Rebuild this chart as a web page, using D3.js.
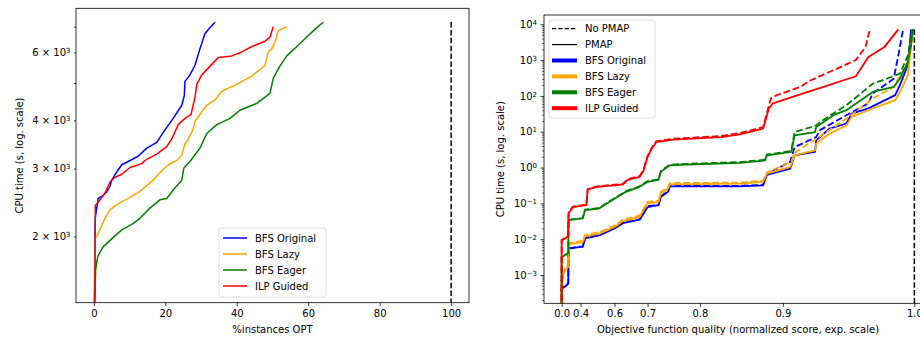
<!DOCTYPE html>
<html><head><meta charset="utf-8">
<script src="https://cdn.jsdelivr.net/npm/d3@7"></script>
<style>
body{margin:0;background:#fff;}
text{font-family:"DejaVu Sans",sans-serif;fill:#000;}
</style></head><body>
<svg id="c" width="920" height="342"></svg>
<script>
// ---------- DATA ----------
const seriesNames = ["BFS Original", "BFS Lazy", "BFS Eager", "ILP Guided"];
const seriesColors = ["blue", "orange", "green", "red"];

// Left chart: [% instances OPT, CPU time (s)]
const optOriginal = [[0,1000],[0.2,1500],[0.3,2000],[0.4,2240],[1.2,2510],[2.2,2540],[3.6,2610],[4.5,2700],[5.0,2800],[6.4,2940],[7.8,3070],[9.6,3130],[12.4,3230],[14.8,3390],[17.6,3510],[19.9,3780],[22.2,4050],[24.6,4380],[25.3,4630],[25.5,5050],[26.9,5250],[28.3,5560],[29.7,6140],[31.1,6720],[32.5,6960],[33.9,7190]];
const optLazy = [[0,1000],[0.3,1500],[0.4,1990],[0.8,2000],[1.7,2080],[3.1,2230],[4.5,2345],[6.4,2420],[9.2,2500],[12.9,2620],[16.6,2800],[18,2900],[20.8,3070],[23.2,3150],[24.6,3250],[25.5,3480],[26,3520],[27.8,3800],[28.3,3980],[30.2,4210],[31.6,4380],[33.9,4520],[35.8,4760],[40,4960],[44.2,5210],[47.9,5560],[48.8,6020],[49.8,6140],[50.7,6380],[51.6,6850],[54,7000]];
const optEager = [[0,1000],[0.3,1400],[0.5,1640],[1.1,1780],[2.6,1880],[5.4,1990],[7.8,2080],[10.6,2150],[12.9,2230],[15.7,2370],[18.5,2490],[20.4,2510],[22.2,2640],[24.6,2800],[25.2,3010],[26.9,3130],[29.7,3390],[31.6,3700],[34.4,3900],[38.1,4050],[40.9,4250],[45.6,4430],[49.3,4700],[50.2,5140],[52.1,5540],[54,5880],[56.8,6220],[59.6,6580],[62.4,6960],[64.2,7190]];
const optIlp = [[0,1000],[0.3,1500],[0.4,2410],[1.0,2440],[1.7,2490],[3.1,2590],[4.5,2770],[5.9,2850],[7.8,2900],[10.1,3020],[13.4,3090],[14.3,3150],[17.6,3270],[20.4,3420],[21.8,3580],[23.6,3900],[25.5,4050],[27.2,4150],[28.3,4590],[28.8,4960],[30.2,5250],[33.4,5640],[34.8,5820],[38.6,5880],[41.4,6020],[44.2,6220],[47.9,6420],[49.3,6580],[50.2,7000]];
const leftXTicks = [0, 20, 40, 60, 80, 100];
const leftYTicks = [2000, 3000, 4000, 5000, 6000, 7000];
const leftYMantissa = ["2", "3", "4", "", "6", ""];

// Right chart: [objective quality (normalized), CPU time (s)]
const pmapOriginal = [[0,1e-4],[0,0.00043],[0.14,0.00047],[0.228,0.00058],[0.235,0.0055],[0.42,0.0062],[0.44,0.0105],[0.535,0.0129],[0.60,0.020],[0.63,0.028],[0.68,0.035],[0.70,0.079],[0.725,0.089],[0.73,0.15],[0.745,0.21],[0.748,0.30],[0.854,0.30],[0.88,0.32],[0.884,0.62],[0.907,0.93],[0.911,2.19],[0.929,2.75],[0.93,5.75],[0.941,12.3],[0.954,17],[0.958,32],[0.970,45],[0.988,105],[0.991,200],[0.996,724],[0.998,7200]];
const nopmapOriginal = [[0,1e-4],[0,0.00043],[0.14,0.00047],[0.228,0.00058],[0.235,0.0056],[0.42,0.0063],[0.44,0.0108],[0.535,0.0132],[0.60,0.021],[0.63,0.029],[0.68,0.036],[0.70,0.083],[0.725,0.093],[0.73,0.16],[0.745,0.22],[0.748,0.31],[0.854,0.31],[0.88,0.33],[0.884,0.65],[0.907,1.45],[0.911,3.7],[0.93,7.1],[0.933,11],[0.954,29],[0.970,62],[0.973,117],[0.987,302],[0.990,1350],[0.993,7200]];
const pmapLazy = [[0,1e-4],[0,0.00069],[0.14,0.0014],[0.228,0.0017],[0.235,0.0072],[0.42,0.0083],[0.44,0.012],[0.535,0.0145],[0.60,0.022],[0.63,0.032],[0.68,0.042],[0.70,0.10],[0.725,0.11],[0.73,0.19],[0.745,0.26],[0.748,0.34],[0.854,0.355],[0.88,0.40],[0.884,0.68],[0.907,1.05],[0.911,2.19],[0.929,3.0],[0.93,4.7],[0.941,8.9],[0.954,15],[0.958,26],[0.970,40],[0.988,76],[0.991,129],[0.996,380],[0.998,2570],[0.9995,7200]];
const nopmapLazy = [[0,1e-4],[0,0.00069],[0.14,0.0014],[0.228,0.0018],[0.235,0.0078],[0.42,0.0090],[0.44,0.013],[0.535,0.016],[0.60,0.024],[0.63,0.035],[0.68,0.046],[0.70,0.11],[0.725,0.12],[0.73,0.21],[0.745,0.28],[0.748,0.37],[0.854,0.38],[0.88,0.43],[0.884,0.72],[0.908,1.45],[0.911,2.6],[0.930,6.3],[0.954,23],[0.973,85],[0.987,178],[0.996,890],[0.999,7200]];
const pmapEager = [[0,1e-4],[0,0.0032],[0.228,0.0040],[0.235,0.034],[0.42,0.038],[0.44,0.065],[0.53,0.072],[0.61,0.15],[0.64,0.21],[0.68,0.29],[0.70,0.40],[0.725,0.45],[0.73,0.76],[0.748,1.15],[0.767,1.2],[0.854,1.35],[0.882,1.58],[0.884,2.19],[0.908,2.75],[0.911,7.9],[0.929,9.8],[0.93,13.5],[0.944,29],[0.954,40],[0.968,93],[0.973,129],[0.987,178],[0.991,302],[0.996,890],[0.998,2570],[0.999,7200]];
const nopmapEager = [[0,1e-4],[0,0.0032],[0.228,0.0041],[0.235,0.035],[0.42,0.039],[0.44,0.067],[0.53,0.074],[0.61,0.155],[0.64,0.22],[0.68,0.30],[0.70,0.42],[0.725,0.47],[0.73,0.80],[0.748,1.2],[0.767,1.25],[0.854,1.42],[0.882,1.66],[0.884,2.3],[0.908,2.9],[0.911,9.8],[0.93,15],[0.933,18.6],[0.954,55],[0.973,219],[0.991,417],[0.996,1350],[0.999,7200]];
const pmapIlp = [[0,1e-4],[0,0.0094],[0.22,0.0117],[0.235,0.052],[0.31,0.079],[0.45,0.089],[0.46,0.245],[0.52,0.29],[0.60,0.32],[0.63,0.34],[0.645,0.45],[0.68,0.55],[0.69,0.83],[0.70,2.0],[0.71,3.4],[0.72,5.1],[0.755,6.0],[0.83,7.1],[0.854,8.5],[0.88,12.3],[0.886,44.7],[0.89,61.7],[0.914,105],[0.936,178],[0.961,355],[0.97,1230],[0.981,2340],[0.99,7200]];
const nopmapIlp = [[0,1e-4],[0,0.0094],[0.22,0.0117],[0.235,0.055],[0.31,0.082],[0.45,0.092],[0.46,0.25],[0.52,0.30],[0.63,0.35],[0.645,0.47],[0.68,0.58],[0.69,0.87],[0.70,2.1],[0.71,3.6],[0.72,5.4],[0.755,6.4],[0.83,7.6],[0.854,9.2],[0.88,13.5],[0.888,85],[0.894,105],[0.916,178],[0.925,270],[0.961,1000],[0.968,2340],[0.971,7200]];
const rightXTicks = [0.0, 0.4, 0.6, 0.7, 0.8, 0.9, 1.0];
const rightXTickLabels = ["0.0", "0.4", "0.6", "0.7", "0.8", "0.9", "1.0"];
const rightYExponents = [-3, -2, -1, 0, 1, 2, 3, 4];
const timeLimit = 7200;

// ---------- DRAWING ----------
const svg = d3.select("#c");
const FS = 10;

function supLabel(sel, base, sup) {
  sel.text("");
  sel.append("tspan").text(base);
  sel.append("tspan").attr("dy", "-0.45em").attr("font-size", 7).text(sup);
}
function styleAxis(g) {
  g.select(".domain").remove();
  g.selectAll(".tick line").attr("stroke", "#000").attr("stroke-width", 0.8);
  g.selectAll(".tick text").attr("font-family", "DejaVu Sans").attr("font-size", FS).attr("fill", "#000");
}

// ===== LEFT CHART =====
const L = {x0: 76, x1: 469, y0: 8.3, y1: 302.7};
const lx = d3.scaleLinear().domain([-5, 105]).range([L.x0, L.x1]);
const ly = d3.scaleLog().domain([1347, 7813]).range([L.y1, L.y0]);

svg.append("clipPath").attr("id", "clipL").append("rect")
  .attr("x", L.x0).attr("y", L.y0).attr("width", L.x1 - L.x0).attr("height", L.y1 - L.y0);

const gL = svg.append("g");
const lplot = gL.append("g").attr("clip-path", "url(#clipL)");
const lineL = d3.line().x(d => lx(d[0])).y(d => ly(d[1]));
const leftSeries = [optOriginal, optLazy, optEager, optIlp];
leftSeries.forEach((s, i) => {
  lplot.append("path").attr("d", lineL(s)).attr("fill", "none")
    .attr("stroke", seriesColors[i]).attr("stroke-width", 1.5).attr("stroke-linejoin", "round");
});
lplot.append("line").attr("x1", lx(100)).attr("x2", lx(100))
  .attr("y1", ly(timeLimit)).attr("y2", L.y1 + 2)
  .attr("stroke", "#000").attr("stroke-width", 1.5).attr("stroke-dasharray", "5.5,2.4");

// axes
const lxAxis = gL.append("g").attr("transform", `translate(0,${L.y1})`)
  .call(d3.axisBottom(lx).tickValues(leftXTicks).tickSize(3.5).tickPadding(3.5).tickFormat(d3.format("d")));
styleAxis(lxAxis);
const lyAxis = gL.append("g").attr("transform", `translate(${L.x0},0)`)
  .call(d3.axisLeft(ly).tickValues(leftYTicks).tickSize(2).tickPadding(3.5).tickFormat(() => ""));
styleAxis(lyAxis);
lyAxis.selectAll(".tick text").each(function(d, i) {
  const m = leftYMantissa[i];
  if (m) supLabel(d3.select(this), m + " × 10", "3");
});
gL.append("rect").attr("x", L.x0).attr("y", L.y0).attr("width", L.x1 - L.x0).attr("height", L.y1 - L.y0)
  .attr("fill", "none").attr("stroke", "#000").attr("stroke-width", 0.8);

gL.append("text").attr("x", (L.x0 + L.x1) / 2).attr("y", 333).attr("text-anchor", "middle")
  .attr("font-size", FS).text("%instances OPT");
gL.append("text").attr("transform", `translate(23,${(L.y0 + L.y1) / 2}) rotate(-90)`)
  .attr("text-anchor", "middle").attr("font-size", FS).text("CPU time (s, log. scale)");

// left legend
const legL = gL.append("g");
legL.append("rect").attr("x", 219).attr("y", 228).attr("width", 107).attr("height", 69).attr("rx", 3)
  .attr("fill", "#fff").attr("fill-opacity", 0.8).attr("stroke", "#d6d6d6").attr("stroke-width", 0.8);
seriesNames.forEach((n, i) => {
  const y = 238 + i * 16;
  legL.append("line").attr("x1", 223).attr("x2", 247).attr("y1", y).attr("y2", y)
    .attr("stroke", seriesColors[i]).attr("stroke-width", 1.5);
  legL.append("text").attr("x", 255).attr("y", y + 3.6).attr("font-size", FS).text(n);
});

// ===== RIGHT CHART =====
const R = {x0: 544, x1: 932, y0: 15, y1: 303.3};
const gq = q => Math.pow(100, q);                 // exponential transform of quality
const rxLin = d3.scaleLinear().domain([1 - 4.95, 100 + 4.95]).range([R.x0, R.x1]);
const rx = q => rxLin(gq(q));
const ry = d3.scaleLog().domain([Math.pow(10, -3.79), Math.pow(10, 4.26)]).range([R.y1, R.y0]);

svg.append("clipPath").attr("id", "clipR").append("rect")
  .attr("x", R.x0).attr("y", R.y0).attr("width", R.x1 - R.x0).attr("height", R.y1 - R.y0);

const gR = svg.append("g");
const rplot = gR.append("g").attr("clip-path", "url(#clipR)");
const lineR = d3.line().x(d => rx(d[0])).y(d => ry(d[1]));
const rightPairs = [
  [nopmapOriginal, pmapOriginal],
  [nopmapLazy, pmapLazy],
  [nopmapEager, pmapEager],
  [nopmapIlp, pmapIlp]
];
rightPairs.forEach((pair, i) => {
  rplot.append("path").attr("d", lineR(pair[0])).attr("fill", "none")
    .attr("stroke", seriesColors[i]).attr("stroke-width", 1.8).attr("stroke-dasharray", "6.7,2.9");
  rplot.append("path").attr("d", lineR(pair[1])).attr("fill", "none")
    .attr("stroke", seriesColors[i]).attr("stroke-width", 1.8).attr("stroke-linejoin", "round");
});
rplot.append("line").attr("x1", rx(1)).attr("x2", rx(1))
  .attr("y1", ry(timeLimit)).attr("y2", R.y1 + 2)
  .attr("stroke", "#000").attr("stroke-width", 1.5).attr("stroke-dasharray", "5.5,2.4");

// x axis (exp scale)
const rxAxis = gR.append("g").attr("transform", `translate(0,${R.y1})`)
  .call(d3.axisBottom(rxLin).tickValues(rightXTicks.map(gq)).tickSize(3.5).tickPadding(3.5)
    .tickFormat((d, i) => rightXTickLabels[i]));
styleAxis(rxAxis);

// y axis (log)
const rMinor = [];
for (let e = -4; e <= 4; e++) for (let m = 2; m <= 9; m++) {
  const v = m * Math.pow(10, e);
  if (v >= ry.domain()[0] && v <= ry.domain()[1]) rMinor.push(v);
}
const ryMinorAxis = gR.append("g").attr("transform", `translate(${R.x0},0)`)
  .call(d3.axisLeft(ry).tickValues(rMinor).tickSize(2).tickFormat(() => ""));
styleAxis(ryMinorAxis);
ryMinorAxis.selectAll(".tick line").attr("stroke-width", 0.6);
const ryAxis = gR.append("g").attr("transform", `translate(${R.x0},0)`)
  .call(d3.axisLeft(ry).tickValues(rightYExponents.map(e => Math.pow(10, e))).tickSize(3.5).tickPadding(3.5).tickFormat(() => ""));
styleAxis(ryAxis);
ryAxis.selectAll(".tick text").each(function(d, i) {
  const e = rightYExponents[i];
  supLabel(d3.select(this), "10", e < 0 ? "−" + Math.abs(e) : String(e));
});

gR.append("rect").attr("x", R.x0).attr("y", R.y0).attr("width", R.x1 - R.x0).attr("height", R.y1 - R.y0)
  .attr("fill", "none").attr("stroke", "#000").attr("stroke-width", 0.8);

gR.append("text").attr("x", (R.x0 + R.x1) / 2).attr("y", 333).attr("text-anchor", "middle")
  .attr("font-size", FS).text("Objective function quality (normalized score, exp. scale)");
gR.append("text").attr("transform", `translate(504,${(R.y0 + R.y1) / 2}) rotate(-90)`)
  .attr("text-anchor", "middle").attr("font-size", FS).text("CPU time (s, log. scale)");

// right legend
const legR = gR.append("g");
legR.append("rect").attr("x", 549).attr("y", 20).attr("width", 106).attr("height", 98).attr("rx", 3)
  .attr("fill", "#fff").attr("fill-opacity", 0.8).attr("stroke", "#d6d6d6").attr("stroke-width", 0.8);
const legItems = [
  {label: "No PMAP", color: "#000", w: 1.2, dash: "4.4,1.9"},
  {label: "PMAP", color: "#000", w: 1.2, dash: null}
].concat(seriesNames.map((n, i) => ({label: n, color: seriesColors[i], w: 4, dash: null})));
legItems.forEach((it, i) => {
  const y = 28.7 + i * 15.9;
  const ln = legR.append("line").attr("x1", 552).attr("x2", 577).attr("y1", y).attr("y2", y)
    .attr("stroke", it.color).attr("stroke-width", it.w);
  if (it.dash) ln.attr("stroke-dasharray", it.dash);
  legR.append("text").attr("x", 585).attr("y", y + 3.6).attr("font-size", FS).text(it.label);
});
</script>
</body></html>
